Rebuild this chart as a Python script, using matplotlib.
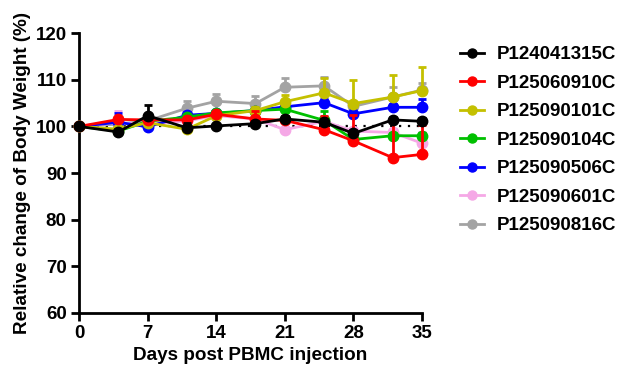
import numpy as np
import matplotlib.pyplot as plt
from matplotlib.lines import Line2D

plt.rcParams['font.family'] = ['Liberation Sans', 'DejaVu Sans']
plt.rcParams['font.weight'] = 'bold'

days = [0, 4, 7, 11, 14, 18, 21, 25, 28, 32, 35]

names = ['P124041315C', 'P125060910C', 'P125090101C', 'P125090104C',
         'P125090506C', 'P125090601C', 'P125090816C']
colors = ['#000000', '#FF0000', '#C4C000', '#00C000', '#0000FF', '#F5A8E6', '#A3A3A3']

# mean body weight change (%)
p124041315 = [100, 98.8, 102.3, 99.7, 100.1, 100.6, 101.6, 100.9, 98.5, 101.4, 101.1]
p125060910 = [100, 101.5, 101.4, 101.4, 102.6, 101.6, 101.3, 99.3, 96.9, 93.3, 94.0]
p125090101 = [100, 99.4, 100.8, 99.4, 102.3, 103.4, 105.3, 107.2, 104.9, 106.3, 107.7]
p125090104 = [100, 99.0, 101.1, 102.0, 102.9, 103.4, 103.7, 101.3, 97.2, 98.0, 98.0]
p125090506 = [100, 100.9, 99.9, 102.4, 102.8, 103.4, 104.2, 105.1, 102.7, 104.1, 104.1]
p125090601 = [100, 100.8, 100.4, 101.2, 102.3, 101.6, 99.3, 101.1, 99.0, 98.7, 96.4]
p125090816 = [100, 100.5, 101.2, 103.9, 105.4, 104.9, 108.4, 108.7, 104.3, 106.3, 107.8]

# upper SEM
e124041315 = [0, 0.6, 2.3, 1.0, 0.4, 0.5, 0.6, 0.7, 0.8, 0.6, 0.8]
e125060910 = [0, 0.4, 0.5, 0.6, 0.5, 1.8, 1.0, 3.0, 5.5, 7.8, 6.3]
e125090101 = [0, 0.4, 0.6, 0.5, 0.6, 0.8, 1.5, 3.2, 5.0, 4.7, 5.1]
e125090104 = [0, 0.4, 0.5, 0.6, 0.5, 0.5, 0.6, 2.1, 0.6, 0.6, 0.6]
e125090506 = [0, 2.0, 0.6, 0.8, 0.5, 0.5, 0.6, 0.7, 0.8, 0.7, 1.8]
e125090601 = [0, 2.5, 0.5, 0.8, 0.5, 0.5, 0.6, 0.8, 0.6, 0.8, 2.4]
e125090816 = [0, 0.5, 0.5, 1.5, 1.6, 1.7, 2.0, 1.8, 0.8, 2.1, 1.6]

means = [p124041315, p125060910, p125090101, p125090104, p125090506, p125090601, p125090816]
errs = [e124041315, e125060910, e125090101, e125090104, e125090506, e125090601, e125090816]

fig = plt.figure(figsize=(6.28, 3.77), dpi=100)
ax = fig.add_axes([0.126, 0.170, 0.546, 0.742])

ax.plot([0, 35], [100, 100], color='black', linestyle=(0, (1, 3)), lw=1.6, zorder=1)

n = len(names)
for i in reversed(range(n)):
    m = np.array(means[i])
    e = np.array(errs[i])
    ax.errorbar(days, m, yerr=[np.zeros_like(e), e], color=colors[i], lw=2,
                marker='o', markersize=7.5, capsize=3, capthick=2, elinewidth=2,
                clip_on=False, zorder=2 + (n - i))

ax.set_xlim(0, 35)
ax.set_ylim(60, 120)
ax.set_xticks(range(0, 36, 7))
ax.set_yticks(range(60, 121, 10))
for s in ['top', 'right']:
    ax.spines[s].set_visible(False)
for s in ['left', 'bottom']:
    ax.spines[s].set_linewidth(2)
ax.tick_params(width=2, length=6, labelsize=13.5, pad=3)
ax.set_xlabel('Days post PBMC injection', fontsize=13.6, fontweight='bold', labelpad=3)
ax.set_ylabel('Relative change of Body Weight (%)', fontsize=13.6, fontweight='bold', labelpad=3)

handles = [Line2D([0], [0], color=c, lw=2, marker='o', markersize=6.5) for c in colors]
fig.legend(handles, names, loc='upper left', bbox_to_anchor=(0.732, 0.878),
           frameon=False, fontsize=13.5, handlelength=1.3, handletextpad=0.7,
           labelspacing=0.61, borderpad=0, borderaxespad=0)

fig.savefig('out.png', dpi=100)
